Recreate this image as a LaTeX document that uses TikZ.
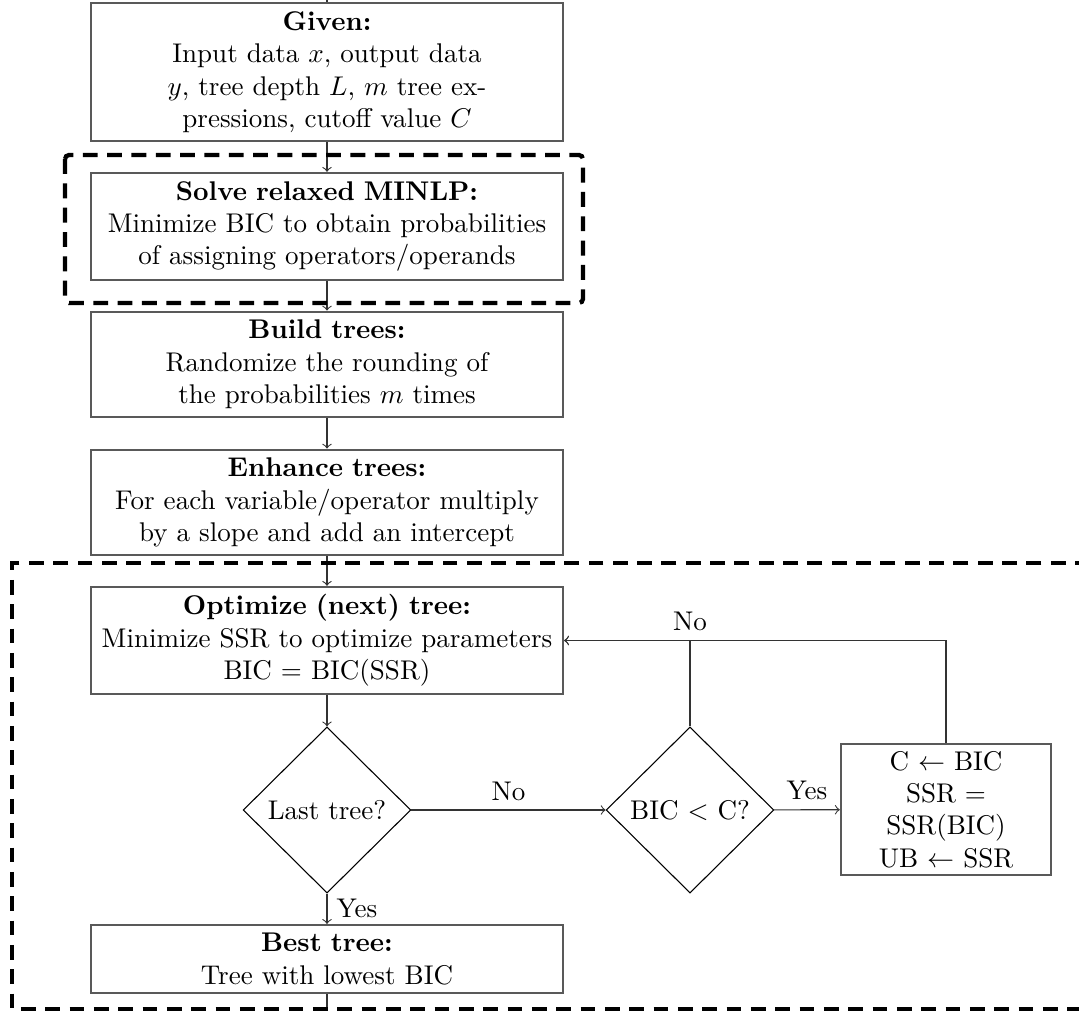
\documentclass[tikz,border=0pt]{standalone}
\usetikzlibrary{shapes.geometric}
\tikzset{
  procbox/.style={draw=black!65,line width=0.9pt,text width=5.9cm,align=center,minimum width=6.06cm,inner ysep=2pt},
  decide/.style={draw,diamond,thin,minimum width=2.18cm,minimum height=2.16cm,inner sep=0pt},
  updbox/.style={draw=black!65,line width=0.9pt,align=center,minimum width=2.73cm,minimum height=1.70cm,inner sep=2pt},
  groupline/.style={line width=1.6pt,dash pattern=on 5.5pt off 3.5pt},
  flow/.style={->,draw=black!80,thin}
}
\begin{document}
\begin{tikzpicture}[x=0.013cm,y=-0.013cm]
	\useasboundingbox (0,0) rectangle (1079,1011);
	
	\node[procbox,minimum height=1.79cm] (given) at (327,72) {\textbf{Given:}\\Input data $x$, output data\\$y$, tree depth $L$, $m$ tree ex-\\pressions, cutoff value $C$};
	\node[procbox,minimum height=1.39cm] (solve) at (327,226.5) {\textbf{Solve relaxed MINLP:}\\Minimize BIC to obtain probabilities\\of assigning operators/operands};
	\node[procbox,minimum height=1.37cm] (build) at (327,364.5) {\textbf{Build trees:}\\Randomize the rounding of\\the probabilities $m$ times};
	\node[procbox,minimum height=1.37cm] (enhance) at (327,502.5) {\textbf{Enhance trees:}\\For each variable/operator multiply\\by a slope and add an intercept};
	\node[procbox,minimum height=1.39cm] (opt) at (327,640.5) {\textbf{Optimize (next) tree:}\\Minimize SSR to optimize parameters\\BIC = BIC(SSR)};
	\node[decide] (last) at (327,810) {Last tree?};
	\node[decide] (bicc) at (690,810) {BIC $<$ C?};
	\node[updbox] (upd) at (946,809.5) {C $\leftarrow$ BIC\\SSR =\\SSR(BIC)\\UB $\leftarrow$ SSR};
	\node[procbox,minimum height=0.88cm] (best) at (327,959) {\textbf{Best tree:}\\Tree with lowest BIC};
	\coordinate (top) at (327,0);
	\coordinate (bottom) at (327,1011);
	
	\draw[black!80,thin] (top)--(given.north);
	\draw[flow] (given)--(solve);
	\draw[flow] (solve)--(build);
	\draw[flow] (build)--(enhance);
	\draw[flow] (enhance)--(opt);
	\draw[flow] (opt)--(last);
	\draw[flow] (last)--(bicc) node[midway,above]{No};
	\draw[flow] (bicc)--(upd) node[midway,above]{Yes};
	\draw[flow] (last)--(best) node[midway,right]{Yes};
	\draw[flow] (bicc.north)|-(opt.east) node[pos=0.5,above]{No};
	\draw[flow] (upd.north)|-(opt.east);
	\draw[black!80,thin] (best.south)--(bottom);
	
	\draw[groupline,rounded corners=1.5pt](65,155)rectangle(583,303);
	\draw[groupline](1090,563)--(12,563)--(12,1009)--(1090,1009);
\end{tikzpicture}
\end{document}
